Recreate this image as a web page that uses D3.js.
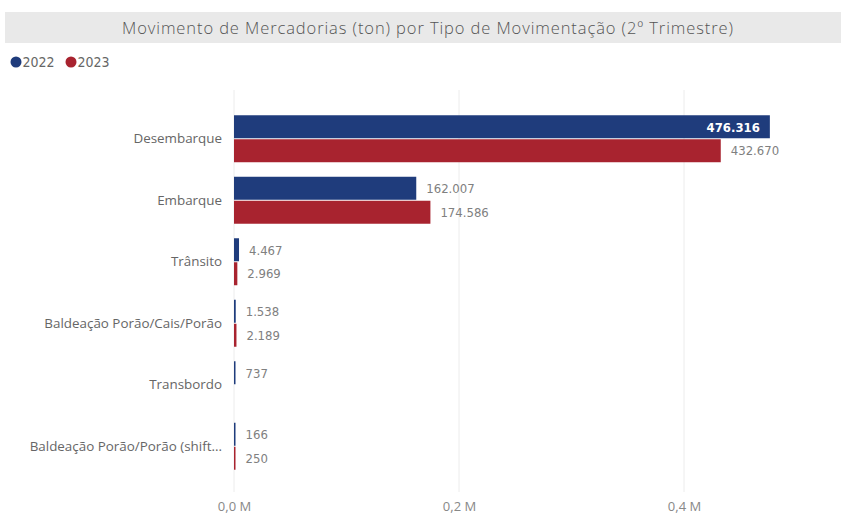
<!DOCTYPE html>
<html><head><meta charset="utf-8">
<script src="https://cdn.jsdelivr.net/npm/d3@7"></script>
<style>
html,body{margin:0;padding:0;background:#fff;}
svg{display:block;}
</style></head>
<body>
<svg id="chart" width="841" height="516"></svg>
<script>
const categories = ["Desembarque","Embarque","Trânsito","Baldeação Porão/Cais/Porão","Transbordo","Baldeação Porão/Porão (shift..."];
const values2022 = [476316,162007,4467,1538,737,166];
const values2023 = [432670,174586,2969,2189,null,250];
const seriesNames = ["2022","2023"];
const xTicks = [0,200000,400000];
const xTickLabels = ["0,0 M","0,2 M","0,4 M"];
const colors = ["#1f3c7c","#a8232f"];

const svg = d3.select("#chart");

// title band
svg.append("rect").attr("x",5).attr("y",12).attr("width",836).attr("height",31).attr("fill","#e9e9e9");
svg.append("text").attr("x",428).attr("y",34).attr("text-anchor","middle")
  .attr("font-family","Open Sans").attr("font-size",16.5).attr("font-weight",300)
  .attr("letter-spacing","0.9px").attr("fill","#555")
  .text("Movimento de Mercadorias (ton) por Tipo de Movimentação (2º Trimestre)");

// legend
const lg = svg.append("g");
const legX = [16, 71];
seriesNames.forEach((s,i)=>{
  lg.append("circle").attr("cx",legX[i]).attr("cy",62).attr("r",5.5).attr("fill",colors[i]);
  lg.append("text").attr("x",legX[i]+6.5).attr("y",67).attr("font-family","DejaVu Sans Condensed")
    .attr("font-size",14).attr("fill","#666").text(s);
});

const x = d3.scaleLinear().domain([0,400000]).range([234,684]);
const y = d3.scaleBand().domain(categories).range([108,477]).paddingInner(0.236).paddingOuter(0.118);
const y1 = d3.scaleBand().domain([0,1]).range([0,y.bandwidth()]);

// gridlines
svg.append("g").selectAll("line").data(xTicks).join("line")
  .attr("x1",d=>x(d)).attr("x2",d=>x(d)).attr("y1",90).attr("y2",492)
  .attr("stroke","#ececec").attr("stroke-width",1);

// x axis labels
const axis = d3.axisBottom(x).tickValues(xTicks).tickFormat((d,i)=>xTickLabels[i]).tickSize(0);
const ag = svg.append("g").attr("transform","translate(0,496)").call(axis);
ag.select(".domain").remove();
ag.selectAll("text").attr("font-family","Open Sans").attr("font-size",13).attr("fill","#888").attr("dy","0.9em");

// category labels
svg.append("g").selectAll("text").data(categories).join("text")
  .attr("x",222).attr("y",d=>y(d)+y.bandwidth()/2).attr("dy","0.35em").attr("text-anchor","end")
  .attr("font-family","Open Sans").attr("font-size",13.4).attr("fill","#666").text(d=>d);

const fmt = v => d3.format(",")(v).replace(/,/g,".");
const rows = [];
categories.forEach((c,ci)=>{
  [values2022[ci], values2023[ci]].forEach((v,si)=>{
    if(v!=null) rows.push({c, si, v});
  });
});

const bars = svg.append("g");
bars.selectAll("rect").data(rows).join("rect")
  .attr("x",x(0)).attr("y",d=>y(d.c)+y1(d.si)+(d.si===1?0.5:0))
  .attr("width",d=>Math.max(x(d.v)-x(0),1.5)).attr("height",y1.bandwidth()-0.5)
  .attr("fill",d=>colors[d.si]);

const lbl = svg.append("g");
rows.forEach(d=>{
  const t = lbl.append("text").attr("y",y(d.c)+y1(d.si)+y1.bandwidth()/2).attr("dy","0.36em")
    .attr("font-family","DejaVu Sans Condensed").attr("font-size",13).text(fmt(d.v));
  const w = t.node().getComputedTextLength();
  const end = Math.max(x(d.v), x(0)+1.5);
  if(end+10+w > 795){
    t.attr("x",end-10).attr("text-anchor","end").attr("fill","#fff").attr("font-weight","bold");
  } else {
    t.attr("x",end+10).attr("fill","#808080");
  }
});
</script>
</body></html>
